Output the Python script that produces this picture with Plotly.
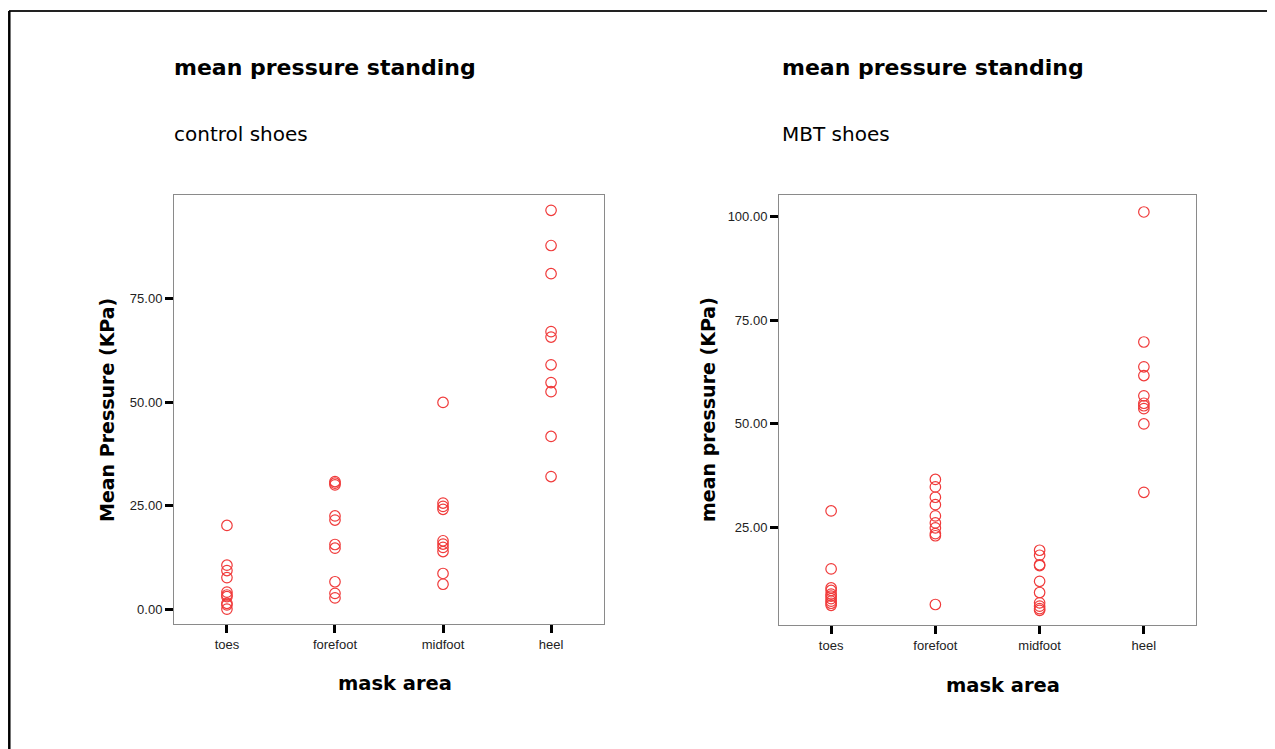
import plotly.graph_objects as go

# the page body adds an 8px margin, so the figure is drawn 8px in from the window edge
OFF = 8
W, H = 1275 - OFF, 749 - OFF

categories = ["toes", "forefoot", "midfoot", "heel"]

# control shoes (left panel)
control_toes = [20.2, 10.6, 9.3, 7.6, 4.1, 3.4, 3.0, 1.4, 1.0, 0.0]
control_forefoot = [30.8, 30.4, 30.0, 22.5, 21.5, 15.6, 14.7, 6.6, 3.8, 2.7]
control_midfoot = [49.9, 25.6, 24.8, 24.1, 16.5, 15.7, 14.9, 13.9, 8.6, 6.0]
control_heel = [96.3, 87.8, 81.0, 67.0, 65.7, 59.0, 54.7, 52.5, 41.7, 32.0]

# MBT shoes (right panel)
mbt_toes = [28.9, 14.9, 10.3, 9.7, 8.8, 8.3, 7.7, 7.1, 6.6, 6.1]
mbt_forefoot = [36.5, 34.7, 32.2, 30.4, 27.7, 26.0, 24.8, 23.4, 22.9, 6.3]
mbt_midfoot = [19.4, 18.2, 15.9, 15.7, 11.9, 9.2, 6.7, 5.9, 5.3, 4.9]
mbt_heel = [101.1, 69.7, 63.7, 61.6, 56.7, 54.9, 54.3, 53.6, 49.9, 33.4]

left_ticks = [0, 25, 50, 75]
right_ticks = [25, 50, 75, 100]

title_text = "mean pressure standing"
left_subtitle = "control shoes"
right_subtitle = "MBT shoes"
left_ytitle = "Mean Pressure (KPa)"
right_ytitle = "mean pressure (KPa)"
xtitle = "mask area"

RED = "#f03a3a"


def px(x):
    return (x - OFF) / W


def py(y):
    return 1 - (y - OFF) / H


def flatten(groups):
    xs, ys = [], []
    for cat, vals in zip(categories, groups):
        xs += [cat] * len(vals)
        ys += vals
    return xs, ys


fig = go.Figure()

lx, ly = flatten([control_toes, control_forefoot, control_midfoot, control_heel])
rx, ry = flatten([mbt_toes, mbt_forefoot, mbt_midfoot, mbt_heel])

marker = dict(symbol="circle-open", size=10.5, color=RED, line=dict(width=1.2, color=RED))

fig.add_trace(go.Scatter(x=lx, y=ly, mode="markers", marker=marker,
                         xaxis="x", yaxis="y", showlegend=False))
fig.add_trace(go.Scatter(x=rx, y=ry, mode="markers", marker=marker,
                         xaxis="x2", yaxis="y2", showlegend=False))

tickfont = dict(family="Liberation Sans, Arial", size=13, color="#222")
axis_common = dict(showline=True, linecolor="#8a8a8a", linewidth=1, mirror=True,
                   showgrid=False, zeroline=False, ticks="outside", tickcolor="black",
                   tickwidth=3, ticklen=8, tickfont=tickfont)

fig.update_layout(
    width=W, height=H, autosize=False,
    margin=dict(l=0, r=0, t=0, b=0),
    paper_bgcolor="white", plot_bgcolor="white",
    xaxis=dict(domain=[px(174), px(604)], anchor="y", type="category",
               categoryorder="array", categoryarray=categories,
               range=[-0.49, 3.49], **axis_common),
    yaxis=dict(domain=[py(624), py(195)], anchor="x", range=[-3.6, 100],
               tickvals=left_ticks, tickformat=".2f", **axis_common),
    xaxis2=dict(domain=[px(779), px(1196)], anchor="y2", type="category",
                categoryorder="array", categoryarray=categories,
                range=[-0.5, 3.5], **axis_common),
    yaxis2=dict(domain=[py(625), py(195)], anchor="x2", range=[1.35, 105.2],
                tickvals=right_ticks, tickformat=".2f", **axis_common),
)

title_font = dict(family="DejaVu Sans", size=22, color="black", weight="bold")
sub_font = dict(family="DejaVu Sans", size=20, color="black")
axt_font = dict(family="DejaVu Sans", size=19.5, color="black", weight="bold")

ann = []
for x0, sub in [(172, left_subtitle), (780, right_subtitle)]:
    ann.append(dict(text=title_text, x=px(x0), y=py(68), xref="paper", yref="paper",
                    xanchor="left", yanchor="middle", showarrow=False, font=title_font))
    ann.append(dict(text=sub, x=px(x0), y=py(134), xref="paper", yref="paper",
                    xanchor="left", yanchor="middle", showarrow=False, font=sub_font))

for xc, txt in [(107, left_ytitle), (708, right_ytitle)]:
    ann.append(dict(text=txt, x=px(xc), y=py(410), xref="paper", yref="paper",
                    xanchor="center", yanchor="middle", textangle=-90, showarrow=False,
                    font=dict(family="DejaVu Sans", size=19, color="black", weight="bold")))

for xc, yc in [(395, 683), (1003, 685)]:
    ann.append(dict(text=xtitle, x=px(xc), y=py(yc), xref="paper", yref="paper",
                    xanchor="center", yanchor="middle", showarrow=False, font=axt_font))

fig.update_layout(annotations=ann)

# outer frame (top and left edges)
fig.add_shape(type="line", xref="paper", yref="paper", x0=px(9), x1=1, y0=py(11), y1=py(11),
              line=dict(color="#222", width=2))
fig.add_shape(type="line", xref="paper", yref="paper", x0=px(9.3), x1=px(9.3), y0=py(11), y1=0,
              line=dict(color="black", width=2.5))

fig.write_html("out.html")
